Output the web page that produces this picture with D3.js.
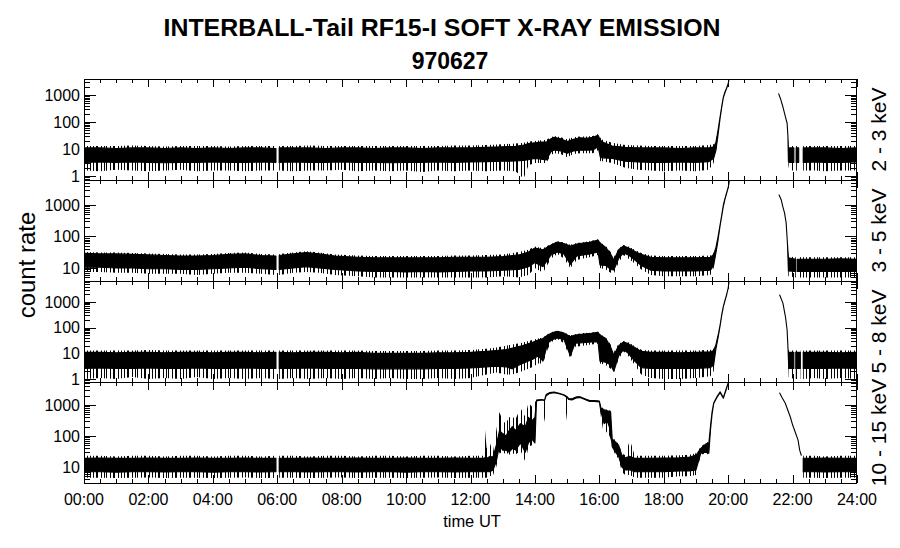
<!DOCTYPE html>
<html><head><meta charset="utf-8">
<script src="https://cdn.jsdelivr.net/npm/d3@7"></script>
<style>
html,body{margin:0;padding:0;background:#fff;}
svg{display:block;font-family:"Liberation Sans",Arial,Helvetica,sans-serif;}
</style>
</head><body>
<svg id="chart" width="900" height="548"></svg>
<script>
// ---------------- texts ----------------
const titleText = "INTERBALL-Tail RF15-I SOFT X-RAY EMISSION";
const subtitleText = "970627";
const yAxisTitle = "count rate";
const xAxisTitle = "time UT";
const channelLabels = ["2 - 3 keV", "3 - 5 keV", "5 - 8 keV", "10 - 15 keV"];

// ---------------- axes ----------------
const xTickHours = [0, 2, 4, 6, 8, 10, 12, 14, 16, 18, 20, 22, 24];
const xTickLabels = ["00:00","02:00","04:00","06:00","08:00","10:00","12:00","14:00","16:00","18:00","20:00","22:00","24:00"];
const xMinorStep = 0.5;
const yDomains = [[0.711, 3917], [3.86, 6220], [0.771, 6560], [3.05, 5520]];
const yTickValues = [[1, 10, 100, 1000], [10, 100, 1000], [1, 10, 100, 1000], [10, 100, 1000]];

// ---------------- data (hours UT; core band lo/hi; spike envelope lo/hi; null = gap) ----------------
// Panel 1: 2 - 3 keV
const hours1 = [0,0.5,1,1.5,2,2.5,3,3.5,4,4.5,5,5.5,5.96,5.97,6.06,6.5,7,7.5,8,8.5,9,9.5,10,10.5,11,11.5,12,12.5,13,13.4,13.65,13.8,14,14.2,14.35,14.5,14.6,14.8,15,15.2,15.4,15.6,15.8,15.96,16.03,16.1,16.4,16.8,17.2,17.6,18,18.5,19,19.4,19.55,19.62,19.68,19.75,19.8,19.85,19.9,19.95,20,20.04,20.05,21.57,21.63,21.7,21.77,21.83,21.855,21.87,21.9,22.04,22.05,22.11,22.19,22.2,22.33,22.7,23,23.5,24];
const lo1 = [3.2,3.3,3.2,3.3,3.2,3.1,3.2,3.2,3.3,3.2,3.2,3.3,3.2,null,3.2,3.3,3.2,3.2,3.3,3.2,3.2,3.1,3.2,3.2,3.3,3.2,3.3,3.4,3.5,3.6,3.8,4,4.5,4.2,3.9,8,9.2,8.5,7,8.5,9,9,9.2,12,5,4.7,4.5,3.5,3.3,3.2,3.2,3.3,3.2,3.4,4.5,9,30,140,350,800,1200,1750,2500,5000,null,1100,700,360,170,90,30,3.5,3.2,3.2,null,3.2,3.2,null,3.2,3.3,3.2,3.2,3.3];
const hi1 = [11,11,10.5,11,11,10.5,11,10.5,11,10.5,11,11,10.5,null,11,11,11,10.5,11,11,10.5,11,11,10.5,11,11,11,11.5,12,12.5,14,16,17,18,18,24,27,24,19,23,26,25,27,32,22,18,13,11.5,11,11,11,10.5,11,11,12,18,45,160,380,840,1300,1800,2600,5000,null,1100,700,360,170,90,30,10,11,11,null,11,11,null,11,11,11,10.5,11];
const spikeLo1 = [1.6,1.5,1.7,1.6,1.5,1.6,1.7,1.5,1.6,1.6,1.5,1.6,1.6,null,1.6,1.5,1.6,1.6,1.7,1.5,1.6,1.5,1.6,1.4,1.6,1.5,1.6,1.5,1.6,1.5,0.8,2.5,3,3,3,6,7,6.5,5,6.5,7,7,7,9,3.5,3.5,3,2,1.7,1.6,1.5,1.6,1.5,1.7,3,8,30,140,350,800,1200,1750,2500,5000,null,1100,700,360,170,90,30,2.5,1.6,1.6,null,1.6,1.6,null,1.6,1.6,1.5,1.6,1.6];
const spikeHi1 = [13,13,13,13.5,13,12.5,13,13,13,12.5,13,13,13,null,13,13,13.5,13,13,13,13,13,13,13,13,13.5,13.5,14,15,16,17,19,20,21,22,27,30,27,23,27,29,29,30,36,26,22,17,14,13.5,13,13,13,13,14,15,20,45,160,380,840,1300,1800,2600,5000,null,1100,700,360,170,90,30,12,13,13,null,13,13,null,13,13,13,13,13];

// Panel 2: 3 - 5 keV
const hours2 = [0,0.5,1,1.5,2,2.5,3,3.5,4,4.5,5,5.5,5.96,5.97,6.06,6.5,6.9,7.3,7.8,8.5,9,9.5,10,10.5,11,11.5,12,12.5,13,13.5,13.8,14,14.25,14.5,14.7,14.9,15.1,15.3,15.5,15.7,15.96,16.02,16.2,16.35,16.45,16.6,16.75,16.9,17.1,17.3,17.6,18,18.5,19,19.45,19.55,19.62,19.68,19.75,19.8,19.85,19.9,19.95,20,20.05,20.06,21.58,21.65,21.7,21.75,21.8,21.84,21.87,22.1,22.11,22.15,22.5,23,23.5,24];
const lo2 = [10.5,10.5,10,10,9.5,9.5,9,9,9.5,10,10.5,9.5,9,null,9,10,11,10,9,8,7.8,7.8,7.5,7.8,7.5,7.8,8,8,8.5,9,11,15,11,26,32,28,13,24,26,28,32,12.5,12,9,8.6,20,30,26,18,12,8.5,8,8,8,8.5,12,30,70,220,450,900,1500,2300,3500,7000,null,2080,1440,860,560,270,62,8,7.7,null,7.7,7.7,7.7,7.8,7.7];
const hi2 = [29,28,28,27,26,25,24,24,25,27,28,25,24,null,25,28,31,28,24,22,21,21,21,21,21,22,22,22,23,26,32,43,38,54,67,60,50,58,62,66,77,62,45,28,18,38,50,44,34,27,22,21,21,21,22,27,45,90,240,480,1000,1600,2400,3600,7000,null,2080,1440,860,560,270,62,21,19,null,19,19,19,19.5,19];
const spikeLo2 = [7.5,7.5,7,7,6.5,6.5,6.5,6,6.5,7,7,6.5,6,null,6,7,7.5,7,6,5.5,5,5,5,5,5,5,5,5,5.5,5,6,10,7,20,28,20,10,18,20,22,26,10,9,7,6.5,15,26,20,14,9,6,5.5,5.5,5.5,6,10,30,70,220,450,900,1500,2300,3500,7000,null,2080,1440,860,560,270,62,5.5,5,null,5,5,5,5,5];
const spikeHi2 = [32,31,31,30,29,28,27,27,28,30,31,28,27,null,28,31,34,31,27,25,24,24,24,24,24,25,25,26,27,32,38,48,42,58,70,65,55,62,66,70,82,66,50,32,22,42,54,48,38,30,25,24,24,24,25,30,45,90,240,480,1000,1600,2400,3600,7000,null,2080,1440,860,560,270,62,23,22,null,22,22,22,22,22];

// Panel 3: 5 - 8 keV
const hours3 = [0,0.5,1,1.5,2,2.5,3,3.5,4,4.5,5,5.5,5.96,5.97,6.06,6.5,7,7.5,8,8.5,9,9.5,10,10.5,11,11.5,12,12.5,12.8,13.1,13.3,13.6,13.95,14.1,14.25,14.4,14.55,14.7,14.9,15.1,15.25,15.5,15.75,15.96,16.02,16.2,16.35,16.45,16.6,16.75,16.9,17.1,17.3,17.6,18,18.5,19,19.45,19.55,19.62,19.7,19.75,19.8,19.85,19.9,19.95,20,20.04,20.05,21.6,21.7,21.78,21.83,21.86,21.88,22.04,22.05,22.1,22.24,22.25,22.33,22.7,23,23.5,24];
const lo3 = [2.6,2.7,2.6,2.6,2.7,2.6,2.6,2.7,2.6,2.6,2.7,2.6,2.6,null,2.6,2.6,2.7,2.6,2.6,2.6,2.5,2.5,2.5,2.5,2.6,2.6,2.7,3,3.2,3,2.5,4,6,8,5,25,35,40,35,8,25,26,28,28,5,4.5,3.5,2,8,14,10,5,2.8,2.6,2.6,2.6,2.6,2.8,3.5,15,50,120,300,640,1100,1870,3500,8000,null,1870,900,260,81,13.7,2.6,2.6,null,2.6,2.6,null,2.6,2.6,2.6,2.7,2.6];
const hi3 = [11,11,10.5,11,11,10.5,11,11,10.5,11,11,10.5,11,null,11,10.5,11,11,10.5,11,10,10,10,10,10.5,10.5,11,12,13,14,16,20,28,33,38,52,65,72,62,45,52,57,60,66,52,38,18,8.6,20,28,24,17,12,11,11,10.5,11,11.5,13,22,60,130,320,680,1150,1900,3500,8000,null,1870,900,260,81,13.7,11,11,null,11,11,null,11,11,11,10.5,11];
const spikeLo3 = [1,1.1,1,1.2,1,1.1,1,1.2,1,1.1,1,1.1,1,null,1,1.1,1,1.1,1,1.1,1,1.1,1,1,1.1,1,1.1,1.5,1.8,1.5,1.5,2,3,4,4,15,30,36,25,6.5,18,20,22,24,4,3.5,2.5,1.8,6,12,8,3.5,1.5,1.1,1,1,1.1,1.3,2,15,50,120,300,640,1100,1870,3500,8000,null,1870,900,260,81,13.7,1.2,1,null,1,1,null,1,1.1,1,1.1,1];
const spikeHi3 = [13,13,13,13,13.5,13,13,13,13,13,13,13,13,null,13,13,13,13,13,13,12.5,12.5,12.5,12.5,13,13,13.5,15,17,20,22,26,34,38,42,56,70,76,66,50,56,62,64,70,55,42,22,11,24,30,27,19,14,13,13,13,13,14,15,22,60,130,320,680,1150,1900,3500,8000,null,1870,900,260,81,13.7,13,13,null,13,13,null,13,13,13,13,13];

// Panel 4: 10 - 15 keV
const hours4 = [0,0.5,1,1.5,2,2.5,3,3.5,4,4.5,5,5.5,5.96,5.97,6.06,6.5,7,7.5,8,8.5,9,9.5,10,10.5,11,11.5,12,12.4,12.45,12.5,12.6,12.7,12.8,12.9,13,13.1,13.2,13.3,13.4,13.55,13.7,13.8,13.9,14,14.05,14.2,14.3,14.35,14.45,14.6,14.75,14.9,15,15.05,15.15,15.3,15.4,15.55,15.7,15.85,16,16.05,16.15,16.25,16.35,16.4,16.5,16.6,16.7,16.8,16.95,17.1,17.5,18,18.5,18.8,19,19.15,19.3,19.4,19.45,19.5,19.55,19.65,19.75,19.85,19.95,20.02,20.03,21.6,21.68,21.77,21.85,21.93,22,22.08,22.17,22.22,22.27,22.28,22.33,22.7,23,23.5,24];
const lo4 = [7,7,6.8,7,7,6.9,7,7,6.8,7,7,6.9,7,null,7,7,6.9,7,7,6.9,7,7,6.8,7,7,6.9,7,7,7,7,7,8,15,50,35,35,30,40,35,60,30,60,80,60,1350,1450,1400,2000,2350,2500,2300,2050,1750,1500,1450,1700,1750,1500,1300,1300,1250,600,250,300,150,45,30,22,10,8,8,7,7,7,7.5,7.5,8,28,30,28,150,500,1100,1750,2500,1650,3400,6000,null,2430,1680,1160,690,410,230,135,74,35,24,null,7,7,6.9,7,7];
const hi4 = [19,19.5,19,19,19.5,19,19,19.5,19,19,19.5,19,19,null,19,19,19.5,19,19,19.5,19,19,19.5,19,19,19.5,19,19,20,19,22,21,50,150,120,100,150,200,150,250,200,400,300,400,1450,1500,1450,2200,2500,2600,2400,2150,1850,1600,1600,1850,1850,1600,1400,1400,1350,800,700,650,600,80,65,50,24,20,22,19,19,19.5,20,21,24,40,55,60,200,600,1150,1850,2650,1750,3600,6000,null,2430,1680,1160,690,410,230,135,74,35,24,null,19,19,19.5,19,19];
const spikeLo4 = [4.5,4.5,4.4,4.5,4.6,4.4,4.5,4.5,4.4,4.5,4.6,4.4,4.5,null,4.5,4.5,4.4,4.5,4.6,4.4,4.5,4.5,4.4,4.5,4.6,4.4,4.5,4.5,4.5,4.5,5,5.5,10,30,25,30,25,28,25,35,15,44,50,50,1350,1450,280,2000,2350,2500,2300,2050,280,1500,1450,1700,1750,1500,1300,1300,1250,400,100,150,80,40,25,18,7,5.5,5.5,4.5,4.5,4.5,5,5,5.5,25,28,25,150,500,1100,1750,2500,1650,3400,6000,null,2430,1680,1160,690,410,230,135,74,35,24,null,4.5,4.5,4.4,4.5,4.5];
const spikeHi4 = [23,23,22,23,23,22,23,23,22,23,23,22,23,null,23,23,22,23,23,22,23,23,22,23,23,22,23,23,156,40,60,30,150,600,300,260,400,420,350,800,420,1200,900,1200,1450,1500,1450,2200,2500,2600,2400,2150,1850,1600,1600,1850,1850,1600,1400,1400,1350,900,750,700,650,100,70,55,28,24,75,23,23,23,24,25,28,45,60,65,200,600,1150,1850,2650,1750,3600,6000,null,2430,1680,1160,690,410,230,135,74,35,24,null,23,23,22,23,23];

// ---------------- layout ----------------
const W = 900, H = 548;
const plotLeft = 84, plotRight = 857;
const panelEdges = [79, 180, 281, 382, 483];

const svg = d3.select("#chart");
const x = d3.scaleLinear().domain([0, 24]).range([plotLeft, plotRight]);

// irregular vertical-hatch texture for the sparse noise spikes (style only)
const defs = svg.append("defs");
const hatchX = [0, 3, 4, 8, 11, 13, 17, 20, 21, 25, 28];
const pat = defs.append("pattern").attr("id", "spikes").attr("patternUnits", "userSpaceOnUse")
  .attr("width", 31).attr("height", 8);
hatchX.forEach(px => pat.append("rect").attr("x", px).attr("y", 0).attr("width", 1).attr("height", 8).attr("fill", "#000"));

const series = [
  {h: hours1, lo: lo1, hi: hi1, slo: spikeLo1, shi: spikeHi1},
  {h: hours2, lo: lo2, hi: hi2, slo: spikeLo2, shi: spikeHi2},
  {h: hours3, lo: lo3, hi: hi3, slo: spikeLo3, shi: spikeHi3},
  {h: hours4, lo: lo4, hi: hi4, slo: spikeLo4, shi: spikeHi4}
];

series.forEach((s, i) => {
  const top = panelEdges[i], bottom = panelEdges[i + 1];
  const y = d3.scaleLog().domain(yDomains[i]).range([bottom, top]);
  const rows = s.h.map((t, k) => ({t, lo: s.lo[k], hi: s.hi[k], slo: s.slo[k], shi: s.shi[k]}));
  const g = svg.append("g");
  defs.append("clipPath").attr("id", "clip" + i).append("rect")
    .attr("x", plotLeft).attr("y", top).attr("width", plotRight - plotLeft).attr("height", bottom - top);
  const pg = g.append("g").attr("clip-path", `url(#clip${i})`);

  const spikeArea = d3.area().defined(d => d.lo != null)
    .x(d => x(d.t)).y0(d => y(d.slo)).y1(d => y(d.shi));
  pg.append("path").datum(rows).attr("d", spikeArea).attr("fill", "url(#spikes)").attr("stroke", "none");

  const coreArea = d3.area().defined(d => d.lo != null)
    .x(d => x(d.t)).y0(d => y(d.lo)).y1(d => y(d.hi));
  pg.append("path").datum(rows).attr("d", coreArea).attr("fill", "#000")
    .attr("stroke", "#000").attr("stroke-width", 1.1).attr("stroke-linejoin", "round");

  // frame
  g.append("rect").attr("x", plotLeft + 0.5).attr("y", top + 0.5)
    .attr("width", plotRight - plotLeft - 1).attr("height", bottom - top)
    .attr("fill", "none").attr("stroke", "#000").attr("stroke-width", 1).attr("shape-rendering", "crispEdges");

  // y ticks (log, with minors)
  const [d0, d1] = yDomains[i];
  const e0 = Math.floor(Math.log10(d0)), e1 = Math.ceil(Math.log10(d1));
  const tg = g.append("g").attr("stroke", "#000").attr("stroke-width", 1).attr("shape-rendering", "crispEdges");
  for (let e = e0; e <= e1; e++) {
    for (let m = 1; m <= 9; m++) {
      const v = m * Math.pow(10, e);
      if (v < d0 || v > d1) continue;
      const yy = Math.round(y(v)) + 0.5;
      const len = m === 1 ? 12 : 6;
      tg.append("line").attr("x1", plotLeft).attr("x2", plotLeft + len).attr("y1", yy).attr("y2", yy);
      tg.append("line").attr("x1", plotRight).attr("x2", plotRight - len).attr("y1", yy).attr("y2", yy);
    }
  }
  yTickValues[i].forEach(v => {
    g.append("text").attr("x", 80).attr("y", y(v)).attr("dy", "0.36em")
      .attr("text-anchor", "end").attr("font-size", 16).attr("fill", "#000").text(d3.format("d")(v));
  });

  // x ticks top & bottom
  for (let t = 0; t <= 24 + 1e-9; t += xMinorStep) {
    const major = xTickHours.includes(t);
    const len = major ? 8 : 4;
    const xx = Math.round(x(t)) + 0.5;
    tg.append("line").attr("x1", xx).attr("x2", xx).attr("y1", bottom).attr("y2", bottom - len);
    tg.append("line").attr("x1", xx).attr("x2", xx).attr("y1", top).attr("y2", top + len);
  }

  // channel label
  svg.append("text").attr("transform", `translate(886,${(top + bottom) / 2}) rotate(-90)`)
    .attr("text-anchor", "middle").attr("font-size", 21).attr("fill", "#000").text(channelLabels[i]);
});

// x tick labels
xTickHours.forEach((t, k) => {
  svg.append("text").attr("x", x(t)).attr("y", 505).attr("text-anchor", "middle")
    .attr("font-size", 16).attr("fill", "#000").text(xTickLabels[k]);
});

svg.append("text").attr("x", 472).attr("y", 527).attr("text-anchor", "middle")
  .attr("font-size", 16.5).attr("fill", "#000").text(xAxisTitle);

svg.append("text").attr("transform", "translate(35,265) rotate(-90)").attr("text-anchor", "middle")
  .attr("font-size", 24).attr("fill", "#000").text(yAxisTitle);

svg.append("text").attr("x", 442).attr("y", 36).attr("text-anchor", "middle")
  .attr("font-size", 23).attr("font-weight", "bold").attr("fill", "#000")
  .attr("textLength", 557).attr("lengthAdjust", "spacingAndGlyphs").text(titleText);
svg.append("text").attr("x", 450).attr("y", 69).attr("text-anchor", "middle")
  .attr("font-size", 23).attr("font-weight", "bold").attr("fill", "#000").text(subtitleText);
</script>
</body></html>
